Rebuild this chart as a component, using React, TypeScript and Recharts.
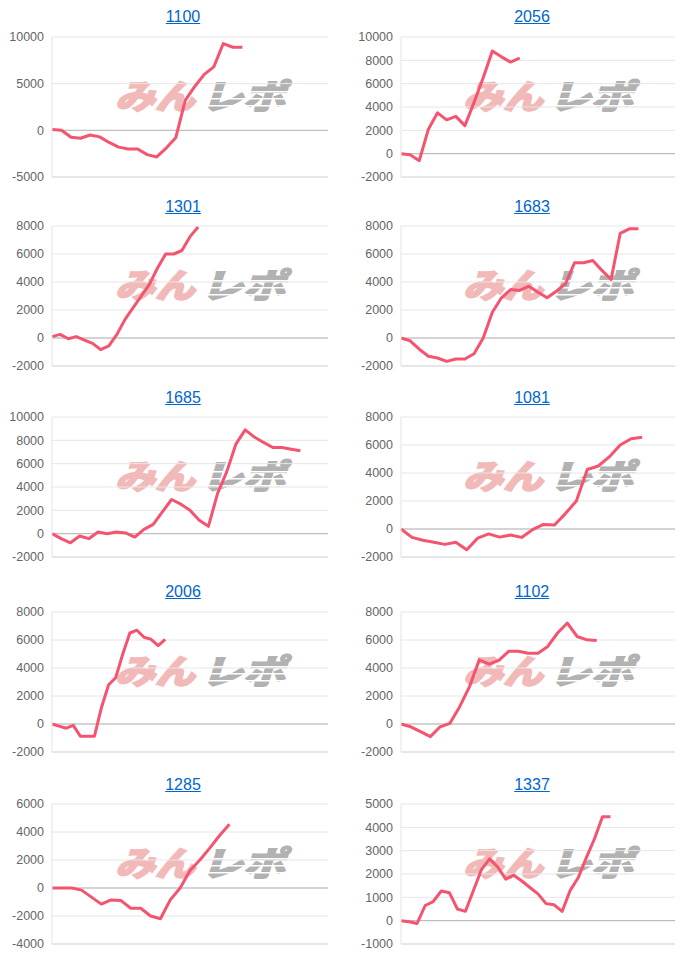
import { LineChart, Line, XAxis, YAxis, CartesianGrid, ReferenceLine } from "recharts"

// 差枚推移
const v1100 = [100, 0, -750, -850, -500, -700, -1300, -1800, -2000, -2000, -2600, -2850, -1900, -800, 3200, 4700, 6000, 6800, 9300, 8900, 8900]
const v2056 = [0, -100, -600, 2100, 3500, 2900, 3200, 2400, 4400, 6500, 8800, 8300, 7850, 8200]
const v1301 = [100, 260, -50, 100, -150, -380, -830, -570, 260, 1330, 2170, 3000, 3830, 5000, 6000, 6000, 6250, 7240, 7930]
const v1683 = [0, -200, -800, -1300, -1430, -1670, -1500, -1500, -1120, 0, 1840, 2870, 3460, 3400, 3700, 3270, 2870, 3340, 3870, 5370, 5370, 5540, 4830, 4180, 7470, 7800, 7800]
const v1685 = [0, -430, -780, -200, -430, 140, 0, 140, 60, -290, 370, 800, 1870, 2930, 2530, 2010, 1150, 630, 3450, 5320, 7700, 8900, 8280, 7820, 7390, 7390, 7240, 7100]
const v1081 = [0, -600, -800, -950, -1100, -950, -1480, -650, -350, -580, -430, -600, -50, 330, 280, 1100, 2000, 4250, 4500, 5150, 6000, 6450, 6550]
const v2006 = [0, -150, -300, -100, -870, -870, -870, 1200, 2800, 3300, 5000, 6500, 6700, 6200, 6050, 5600, 6050]
const v1102 = [0, -200, -550, -900, -200, 50, 1240, 2670, 4580, 4270, 4540, 5190, 5190, 5060, 5060, 5540, 6500, 7210, 6250, 6010, 5970]
const v1285 = [0, 0, 0, -150, -650, -1150, -850, -900, -1450, -1450, -2000, -2200, -850, 0, 1250, 2000, 2850, 3750, 4550]
const v1337 = [0, -50, -120, 650, 820, 1270, 1200, 500, 400, 1300, 2200, 2650, 2300, 1780, 1950, 1700, 1420, 1150, 730, 680, 400, 1300, 1850, 2700, 3500, 4450, 4450]

// y axis ticks
const t10k5 = [-5000, 0, 5000, 10000]
const t10k2 = [-2000, 0, 2000, 4000, 6000, 8000, 10000]
const t8k = [-2000, 0, 2000, 4000, 6000, 8000]
const t6k = [-4000, -2000, 0, 2000, 4000, 6000]
const t5k = [-1000, 0, 1000, 2000, 3000, 4000, 5000]

// machine numbers and x slot counts
const names = ["1100", "2056", "1301", "1683", "1685", "1081", "2006", "1102", "1285", "1337"]
const slots = [30, 31, 35, 31, 31, 26, 40, 29, 29, 35]
const series = [v1100, v2056, v1301, v1683, v1685, v1081, v2006, v1102, v1285, v1337]
const ticks = [t10k5, t10k2, t8k, t8k, t10k2, t8k, t8k, t8k, t6k, t5k]

// layout
const plotTops = [37, 226, 417, 612, 804]
const titleTops = [8, 198, 389, 583, 776]
const PLOT_H = 140
const LINE = "#f4546f"
const FONT = "'Liberation Sans', Arial, Helvetica, sans-serif"
const JP = "'Noto Sans CJK JP', sans-serif"

const buildData = (values: number[], n: number) =>
  Array.from({ length: n }, (_, i) => ({ x: i, value: i < values.length ? values[i] : null }))

const Watermark = ({ left, top }: { left: number; top: number }) => (
  <svg width={180} height={42} style={{ position: "absolute", left, top, overflow: "visible" }}>
    <text x={2} y={34} fontSize={34} fontWeight={900} fontStyle="italic" fill="#f2b9b9" stroke="#f2b9b9"
      strokeWidth={1.5} fontFamily={JP} textLength={80} lengthAdjust="spacingAndGlyphs">みん</text>
    <text x={88} y={34} fontSize={34} fontWeight={900} fontStyle="italic" fill="#b2b2b2" stroke="#b2b2b2"
      strokeWidth={1.5} fontFamily={JP} textLength={84} lengthAdjust="spacingAndGlyphs">レポ</text>
    <rect x={86} y={16} width={92} height={1.5} fill="#fff" />
    <rect x={86} y={23} width={92} height={1.5} fill="#fff" />
    <rect x={86} y={30} width={92} height={1.5} fill="#fff" />
  </svg>
)

function MiniChart({ idx }: { idx: number }) {
  const row = Math.floor(idx / 2)
  const col = idx % 2
  const tk = ticks[idx]
  const min = tk[0]
  const max = tk[tk.length - 1]
  const data = buildData(series[idx], slots[idx])
  const chartLeft = col === 0 ? 0 : 350
  const axisW = col === 0 ? 52 : 51
  const titleCenter = col === 0 ? 183 : 532
  const wmLeft = col === 0 ? 113 : 461
  const top = plotTops[row]

  return (
    <>
      <a href="#" style={{
        position: "absolute", left: titleCenter - 40, width: 80, top: titleTops[row],
        textAlign: "center", color: "#0066cc", fontSize: 16, fontFamily: FONT, textDecoration: "underline",
      }}>{names[idx]}</a>
      <Watermark left={wmLeft} top={top + 38} />
      <div style={{ position: "absolute", left: chartLeft, top: top - 10 }}>
        <LineChart width={col === 0 ? 338 : 335} height={PLOT_H + 20} data={data}
          margin={{ top: 10, right: 10, bottom: 10, left: 0 }}>
          <CartesianGrid vertical={false} stroke="#e6e6e6" />
          <XAxis dataKey="x" hide />
          <YAxis
            width={axisW}
            type="number"
            domain={[min, max]}
            ticks={tk}
            interval={0}
            tickLine={false}
            axisLine={{ stroke: "#e3e3e3" }}
            tick={{ fill: "#666", fontSize: 12.5, fontFamily: FONT }}
          />
          <ReferenceLine y={min} stroke="#dadada" />
          <ReferenceLine y={0} stroke="#b5b5b5" />
          <Line
            type="linear"
            dataKey="value"
            stroke={LINE}
            strokeWidth={3}
            dot={false}
            activeDot={false}
            strokeLinejoin="round"
            isAnimationActive={false}
          />
        </LineChart>
      </div>
    </>
  )
}

export default function App() {
  return (
    <div style={{ position: "absolute", left: 0, top: 0, width: 700, height: 960, background: "#fff", fontFamily: FONT }}>
      {names.map((n, i) => <MiniChart key={n} idx={i} />)}
    </div>
  )
}
